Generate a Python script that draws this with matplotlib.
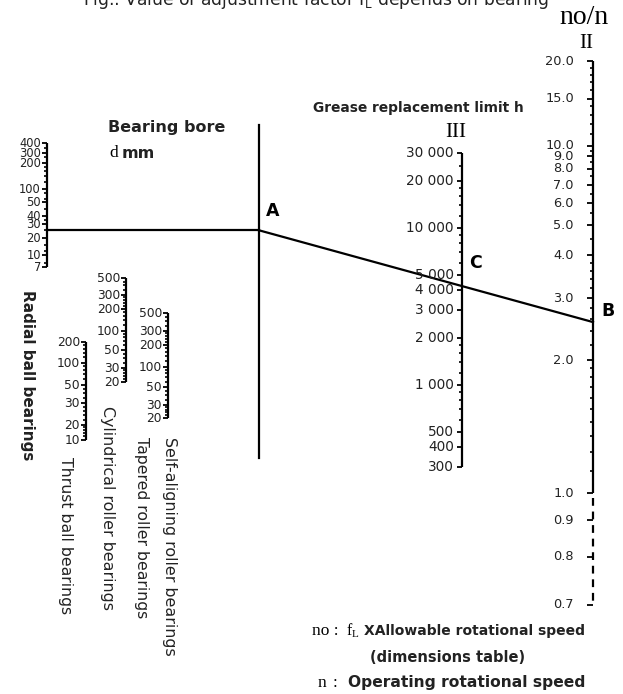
import numpy as np
import matplotlib.pyplot as plt

# bearing bore scales, d (mm)
radial_ticks = [400, 300, 200, 100, 50, 40, 30, 20, 10, 7]
radial_minor = [350, 250, 180, 160, 140, 120, 80, 60, 45, 35, 25, 15, 12, 8]
thrust_ticks = [200, 100, 50, 30, 20, 10]
thrust_minor = [180, 160, 140, 120, 90, 80, 70, 60, 45, 40, 35, 28, 26, 24, 22, 18, 16, 14, 12]
cyl_ticks = [500, 300, 200, 100, 50, 30, 20]
self_ticks = [500, 300, 200, 100, 50, 30, 20]
roller_minor = [450, 400, 350, 280, 260, 240, 220, 180, 160, 140, 120,
                90, 80, 70, 60, 45, 40, 35, 28, 26, 24, 22]

# grease replacement limit (h), scale III
grease_ticks = [30000, 20000, 10000, 5000, 4000, 3000, 2000, 1000, 500, 400, 300]
grease_labels = ["30 000", "20 000", "10 000", "5 000", "4 000", "3 000",
                 "2 000", "1 000", "500", "400", "300"]
grease_minor = [25000, 18000, 16000, 14000, 12000, 9000, 8000, 7000, 6000,
                1800, 1600, 1400, 1200, 900, 800, 700, 600]

# speed ratio no/n, scale II
ratio_ticks = [20, 15, 10, 9, 8, 7, 6, 5, 4, 3, 2, 1, 0.9, 0.8, 0.7]
ratio_minor = [19, 18, 17, 16, 14, 13, 12, 11, 9.5, 8.5, 7.5, 6.5, 5.5, 4.5,
               3.8, 3.6, 3.4, 3.2, 2.8, 2.6, 2.4, 2.2,
               1.9, 1.8, 1.7, 1.6, 1.5, 1.4, 1.3, 1.2, 1.1]

# worked example on the chart
example_bore = 25
example_ratio = 2.55

# scale calibration (pixel rows of the printed scales)
radial_rows = [143, 153, 163, 189, 202, 216, 224, 238, 255, 267]
thrust_rows = [342, 363, 385, 403, 425, 440]
cyl_rows = [278, 295, 309, 331, 350, 368, 382]
self_rows = [313, 331, 345, 367, 387, 405, 418]
ratio_rows = [61, 98.5, 145.5, 156, 168.5, 185, 203, 225, 255, 298, 360, 493, 520, 557, 605]

SANS = "DejaVu Sans"
SERIF = "Liberation Serif"
INK = "#222222"


def make_map(vals, rows, shift=0.0):
    lv = np.log10(np.array(vals, float) - shift)[::-1]
    r = np.array(rows, float)[::-1]
    return lambda v: float(np.interp(np.log10(v - shift), lv, r))


def grease_map(v):
    return 228 + 157 * (4 - np.log10(v))


fig = plt.figure(figsize=(6.23, 6.94), dpi=100)
ax = fig.add_axes([0, 0, 1, 1])
ax.set_xlim(0, 623)
ax.set_ylim(694, 0)
ax.axis("off")

LW = 1.6


def draw_scale(x, fy, ticks, labels, minors, fs, gap=2, maj=5, mnr=3.5, solid_to=None):
    top, bot = fy(ticks[0]), fy(ticks[-1])
    if solid_to is None:
        ax.plot([x, x], [top, bot], color="k", lw=LW, solid_capstyle="butt")
    else:
        ys = fy(solid_to)
        ax.plot([x, x], [top, ys], color="k", lw=LW, solid_capstyle="butt")
        ax.plot([x, x], [ys + 5, bot], color="k", lw=LW, dashes=(3.5, 2.6))
    for v in minors:
        y = fy(v)
        ax.plot([x - mnr, x], [y, y], color="k", lw=1.2, solid_capstyle="butt")
    for v, s in zip(ticks, labels):
        y = fy(v)
        ax.plot([x - maj, x], [y, y], color="k", lw=1.3, solid_capstyle="butt")
        ax.text(x - maj - gap, y, s, ha="right", va="center", fontsize=fs,
                family=SANS, color=INK)


radial = make_map(radial_ticks, radial_rows)
thrust = make_map(thrust_ticks, thrust_rows)
cyl = make_map(cyl_ticks, cyl_rows)
selfal = make_map(self_ticks, self_rows)
ratio = make_map(ratio_ticks, ratio_rows, shift=0.5)

draw_scale(47, radial, radial_ticks, [str(v) for v in radial_ticks], radial_minor, 8.3, gap=1)
draw_scale(86, thrust, thrust_ticks, [str(v) for v in thrust_ticks], thrust_minor, 8.8, gap=1)
draw_scale(126, cyl, cyl_ticks, [str(v) for v in cyl_ticks], roller_minor, 8.8, gap=1)
draw_scale(168, selfal, self_ticks, [str(v) for v in self_ticks], roller_minor, 8.8, gap=1)
draw_scale(462, grease_map, grease_ticks, grease_labels, grease_minor, 9.8, gap=3)
draw_scale(593, ratio, ratio_ticks, ["%.1f" % v for v in ratio_ticks],
           ratio_minor, 9.3, gap=13, maj=6, solid_to=1)

# pivot line A
ax.plot([259, 259], [125, 458], color="k", lw=LW)

# example construction line
yA = radial(example_bore)
yB = ratio(example_ratio)
ax.plot([47, 259], [yA, yA], color="k", lw=LW)
ax.plot([259, 593], [yA, yB], color="k", lw=LW)
yC = yA + (462 - 259) / (593 - 259) * (yB - yA)

ax.text(266, yA - 10, "A", fontsize=12.5, fontweight="bold", family=SANS, va="bottom")
ax.text(469, yC - 14, "C", fontsize=12.5, fontweight="bold", family=SANS, va="bottom")
ax.text(601, yB - 2, "B", fontsize=12.5, fontweight="bold", family=SANS, va="bottom")

# headings
ax.text(316, 5, r"Fig.: Value of adjustment factor $\mathregular{f_L}$ depends on bearing",
        ha="center", va="baseline", fontsize=12.3, family=SANS, color=INK)
ax.text(584, 17, "no/n", ha="center", va="center", fontsize=20, family=SERIF)
ax.text(586, 43, "II", ha="center", va="center", fontsize=15, family=SERIF)
ax.text(108, 127, "Bearing bore", ha="left", va="center", fontsize=11.5,
        fontweight="bold", family=SANS, color=INK)
ax.text(109, 153, "d", ha="left", va="center", fontsize=12.5, family=SERIF)
ax.text(122, 153, "mm", ha="left", va="center", fontsize=11.5,
        fontweight="bold", family=SANS, color=INK)
ax.text(418, 108, "Grease replacement limit h", ha="center", va="center", fontsize=9.9,
        fontweight="bold", family=SANS, color=INK)
ax.text(456, 132, "III", ha="center", va="center", fontsize=15, family=SERIF)

# bearing type labels (vertical)
types = [(27, 290, "Radial ball bearings", 11, "bold"),
         (66, 457, "Thrust ball bearings", 11.3, "normal"),
         (108, 406, "Cylindrical roller bearings", 11.4, "normal"),
         (141, 437, "Tapered roller bearings", 11.3, "normal"),
         (170, 437, "Self-aligning roller bearings", 11.4, "normal")]
for x, y, s, fs, wt in types:
    ax.text(x, y, s, rotation=-90, rotation_mode="anchor", ha="left", va="center",
            fontsize=fs, fontweight=wt, family=SANS, color=INK)

# bottom notes
ax.text(312, 631, "no :", ha="left", va="center", fontsize=12.5, family=SERIF)
ax.text(346, 631, r"$\mathregular{f_L}$", ha="left", va="center", fontsize=11.5, family=SERIF)
ax.text(585, 631, "XAllowable rotational speed", ha="right", va="center", fontsize=10,
        fontweight="bold", family=SANS, color=INK)
ax.text(448, 657, "(dimensions table)", ha="center", va="center", fontsize=10.5,
        fontweight="bold", family=SANS, color=INK)
ax.text(318, 683, "n", ha="left", va="center", fontsize=12.5, family=SERIF)
ax.text(333, 683, ":", ha="left", va="center", fontsize=12.5, family=SERIF)
ax.text(585, 683, "Operating rotational speed", ha="right", va="center", fontsize=11.2,
        fontweight="bold", family=SANS, color=INK)

fig.savefig("out.png", dpi=100)
